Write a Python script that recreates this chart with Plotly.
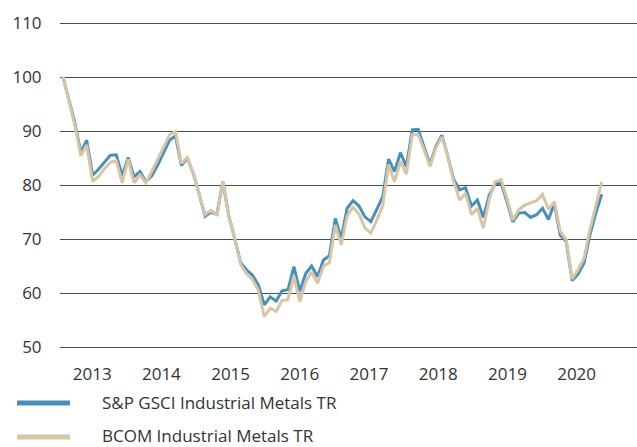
import plotly.graph_objects as go

# ---- data ----
series_names = ["S&P GSCI Industrial Metals TR", "BCOM Industrial Metals TR"]

gsci = [100, 95.8, 91.5, 86.0, 88.3, 81.8, 82.9, 84.2, 85.5, 85.6,
        81.7, 85.1, 81.5, 82.5, 80.6, 81.7, 83.7, 86.0, 88.3, 89.1,
        83.6, 85.0, 82.2, 78.3, 74.2, 75.0, 74.6, 80.6, 74.3, 70.1,
        65.6, 64.3, 63.3, 61.5, 57.8, 59.3, 58.5, 60.4, 60.6, 64.9,
        60.3, 63.6, 65.0, 63.0, 66.1, 66.9, 73.8, 70.1, 75.7, 77.1,
        76.1, 74.1, 73.2, 75.5, 77.8, 84.8, 82.5, 86.0, 83.4, 90.2,
        90.3, 87.0, 83.8, 87.2, 89.2, 85.3, 81.0, 79.1, 79.5, 76.1,
        77.2, 74.0, 78.1, 80.2, 80.4, 76.9, 73.2, 74.8, 74.9, 74.0,
        74.5, 75.7, 73.6, 76.6, 70.7, 69.6, 62.3, 63.5, 65.5, 70.7,
        74.8, 78.3]

bcom = [100, 95.6, 91.1, 85.4, 87.4, 80.7, 81.6, 83.0, 84.2, 84.5,
        80.4, 84.8, 80.4, 81.9, 80.4, 82.5, 84.6, 87.0, 89.3, 89.9,
        84.0, 85.1, 82.2, 78.4, 74.5, 75.3, 74.5, 80.6, 74.3, 70.1,
        65.3, 63.6, 62.5, 60.5, 55.6, 57.2, 56.6, 58.6, 58.8, 63.2,
        58.4, 62.1, 63.9, 61.8, 65.0, 65.6, 72.6, 68.9, 74.3, 75.9,
        74.6, 72.0, 71.1, 73.5, 76.1, 83.8, 80.6, 84.4, 82.0, 89.3,
        89.3, 86.5, 83.4, 86.9, 88.9, 85.2, 80.6, 77.2, 78.5, 74.5,
        75.7, 72.0, 77.3, 80.6, 81.0, 77.5, 73.5, 75.4, 76.3, 76.7,
        77.1, 78.3, 75.5, 76.9, 71.4, 69.9, 62.6, 64.3, 66.4, 71.7,
        76.3, 80.6]

period = list(range(len(gsci)))  # observation index

tick_positions = [4.93, 16.62, 28.31, 40.0, 51.69, 63.38, 75.07, 86.76]
tick_labels = ["2013", "2014", "2015", "2016", "2017", "2018", "2019", "2020"]

colors = ["#4a8fb6", "#d8c5a8"]

# ---- figure ----
fig = go.Figure()
for name, vals, col in zip(series_names, [gsci, bcom], colors):
    fig.add_trace(go.Scatter(x=period, y=vals, mode="lines", name=name,
                             line=dict(color=col, width=3), showlegend=False))

font_family = "Open Sans, Noto Sans, sans-serif"
fs = 17

# layout geometry (y range padded 2px each side so the 50/110 gridlines render)
W, H = 637, 447
ml, mr, mt, mb = 60, 0, 21, 98
pw, ph = W - ml - mr, H - mt - mb

def px_x(x):
    return (x - ml) / pw

def px_y(y):
    return (H - mb - y) / ph

# custom legend (swatches + labels) below the plot
shapes = []
annotations = []
for k, (name, col) in enumerate(zip(series_names, colors)):
    yy = 403 + 34 * k
    shapes.append(dict(type="line", xref="paper", yref="paper",
                       x0=px_x(17), x1=px_x(70), y0=px_y(yy), y1=px_y(yy),
                       line=dict(color=col, width=5)))
    annotations.append(dict(xref="paper", yref="paper", x=px_x(101), y=px_y(yy - 1),
                            xanchor="left", yanchor="middle", text=name,
                            showarrow=False, borderpad=0,
                            font=dict(size=fs, color="#333333", family=font_family)))

fig.update_layout(
    width=W, height=H,
    margin=dict(l=ml, r=mr, t=mt, b=mb, autoexpand=False),
    plot_bgcolor="white", paper_bgcolor="white",
    font=dict(family=font_family, size=fs, color="#333333"),
    shapes=shapes, annotations=annotations,
    xaxis=dict(range=[-0.507, 96.96], tickvals=tick_positions, ticktext=tick_labels,
               showgrid=False, zeroline=False, showline=False,
               ticks="outside", ticklen=10, tickcolor="rgba(0,0,0,0)",
               tickfont=dict(size=fs, color="#333333")),
    yaxis=dict(range=[49.63, 110.37], dtick=10, tick0=50,
               showgrid=True, gridcolor="#4d4d4d", gridwidth=1,
               zeroline=False, showline=False,
               ticks="outside", ticklen=14, tickcolor="rgba(0,0,0,0)",
               tickfont=dict(size=fs, color="#333333")),
)

fig.write_html("out.html", config={"displayModeBar": False},
               post_script="document.body.style.margin='0';document.body.style.overflow='hidden';")
